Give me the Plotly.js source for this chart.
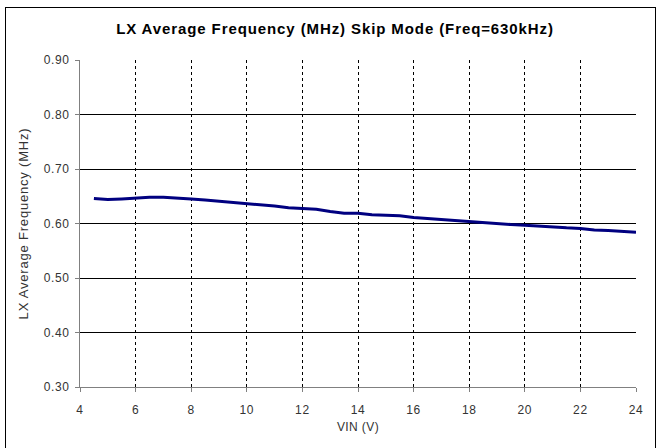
<!DOCTYPE html>
<html>
<head>
<meta charset="utf-8">
<script src="https://cdn.plot.ly/plotly-3.0.1.min.js"></script>
<style>
  html, body { margin: 0; padding: 0; background: #fff; }
  #wrap { position: relative; width: 660px; height: 448px; overflow: hidden; }
  #chart { position: absolute; left: 0; top: 0; width: 660px; height: 448px; }
  #frame { position: absolute; left: 5px; top: 7px; width: 649px; height: 460px; border: 1px solid #000; pointer-events: none; }
  #chart .gtitle { letter-spacing: 0.9px; }
  #chart .xtick text, #chart .ytick text { letter-spacing: 0.6px; }
  #chart .xtitle { letter-spacing: 0.4px; }
  #chart .ytitle { letter-spacing: 0.8px; }
</style>
</head>
<body>
<div id="wrap">
  <div id="chart"></div>
  <div id="frame"></div>
</div>
<script>
const chartTitle = "LX Average Frequency (MHz) Skip Mode (Freq=630kHz)";
const xTitle = "VIN (V)";
const yTitle = "LX Average Frequency (MHz)";

const vin = [4.5, 5.0, 5.5, 6.0, 6.5, 7.0, 7.5, 8.0, 8.5, 9.0, 9.5, 10, 10.5, 11, 11.5, 12, 12.5, 13, 13.5, 14, 14.5, 15, 15.5, 16, 16.5, 17, 17.5, 18, 18.5, 19, 19.5, 20, 20.5, 21, 21.5, 22, 22.5, 23, 23.5, 24];
const freqMHz = [0.646, 0.644, 0.645, 0.647, 0.648, 0.648, 0.647, 0.645, 0.643, 0.641, 0.638, 0.636, 0.634, 0.632, 0.629, 0.627, 0.626, 0.622, 0.619, 0.619, 0.616, 0.615, 0.614, 0.611, 0.609, 0.608, 0.605, 0.603, 0.602, 0.600, 0.598, 0.597, 0.595, 0.593, 0.592, 0.591, 0.588, 0.587, 0.586, 0.584];

const xTicks = [4, 6, 8, 10, 12, 14, 16, 18, 20, 22, 24];
const yTicks = [0.30, 0.40, 0.50, 0.60, 0.70, 0.80, 0.90];

const fontFam = "Liberation Sans, Arial, sans-serif";

const trace = {
  x: vin,
  y: freqMHz,
  type: "scatter",
  mode: "lines",
  line: { color: "#000080", width: 3, shape: "linear" },
  hoverinfo: "skip"
};

const layout = {
  width: 660,
  height: 448,
  margin: { l: 80, r: 24, t: 60, b: 61 },
  paper_bgcolor: "#ffffff",
  plot_bgcolor: "#ffffff",
  showlegend: false,
  title: {
    text: "<b>" + chartTitle + "</b>",
    font: { family: fontFam, size: 15, color: "#000" },
    x: 335 / 660, xref: "container", xanchor: "center",
    y: 1 - 29 / 448, yref: "container", yanchor: "middle"
  },
  xaxis: {
    range: [4, 24],
    tickvals: xTicks,
    ticktext: xTicks.map(String),
    showgrid: true,
    gridcolor: "#000",
    gridwidth: 1,
    griddash: "3px,3px",
    showline: true,
    linecolor: "#808080",
    linewidth: 1,
    ticks: "outside",
    ticklen: 4,
    tickcolor: "#808080",
    ticklabelstandoff: 8,
    zeroline: false,
    tickfont: { family: fontFam, size: 12, color: "#333" },
    title: { text: xTitle, font: { family: fontFam, size: 12, color: "#333" }, standoff: 6 },
    fixedrange: true
  },
  yaxis: {
    range: [0.30, 0.90],
    tickvals: yTicks,
    ticktext: yTicks.map(v => v.toFixed(2)),
    showgrid: true,
    gridcolor: "#000",
    gridwidth: 1,
    showline: true,
    linecolor: "#808080",
    linewidth: 1,
    ticks: "outside",
    ticklen: 4,
    tickcolor: "#808080",
    ticklabelstandoff: 3,
    zeroline: false,
    tickfont: { family: fontFam, size: 12, color: "#333" },
    title: { text: yTitle, font: { family: fontFam, size: 13, color: "#333" }, standoff: 14 },
    fixedrange: true
  }
};

Plotly.newPlot("chart", [trace], layout, { displayModeBar: false, staticPlot: true });
</script>
</body>
</html>
